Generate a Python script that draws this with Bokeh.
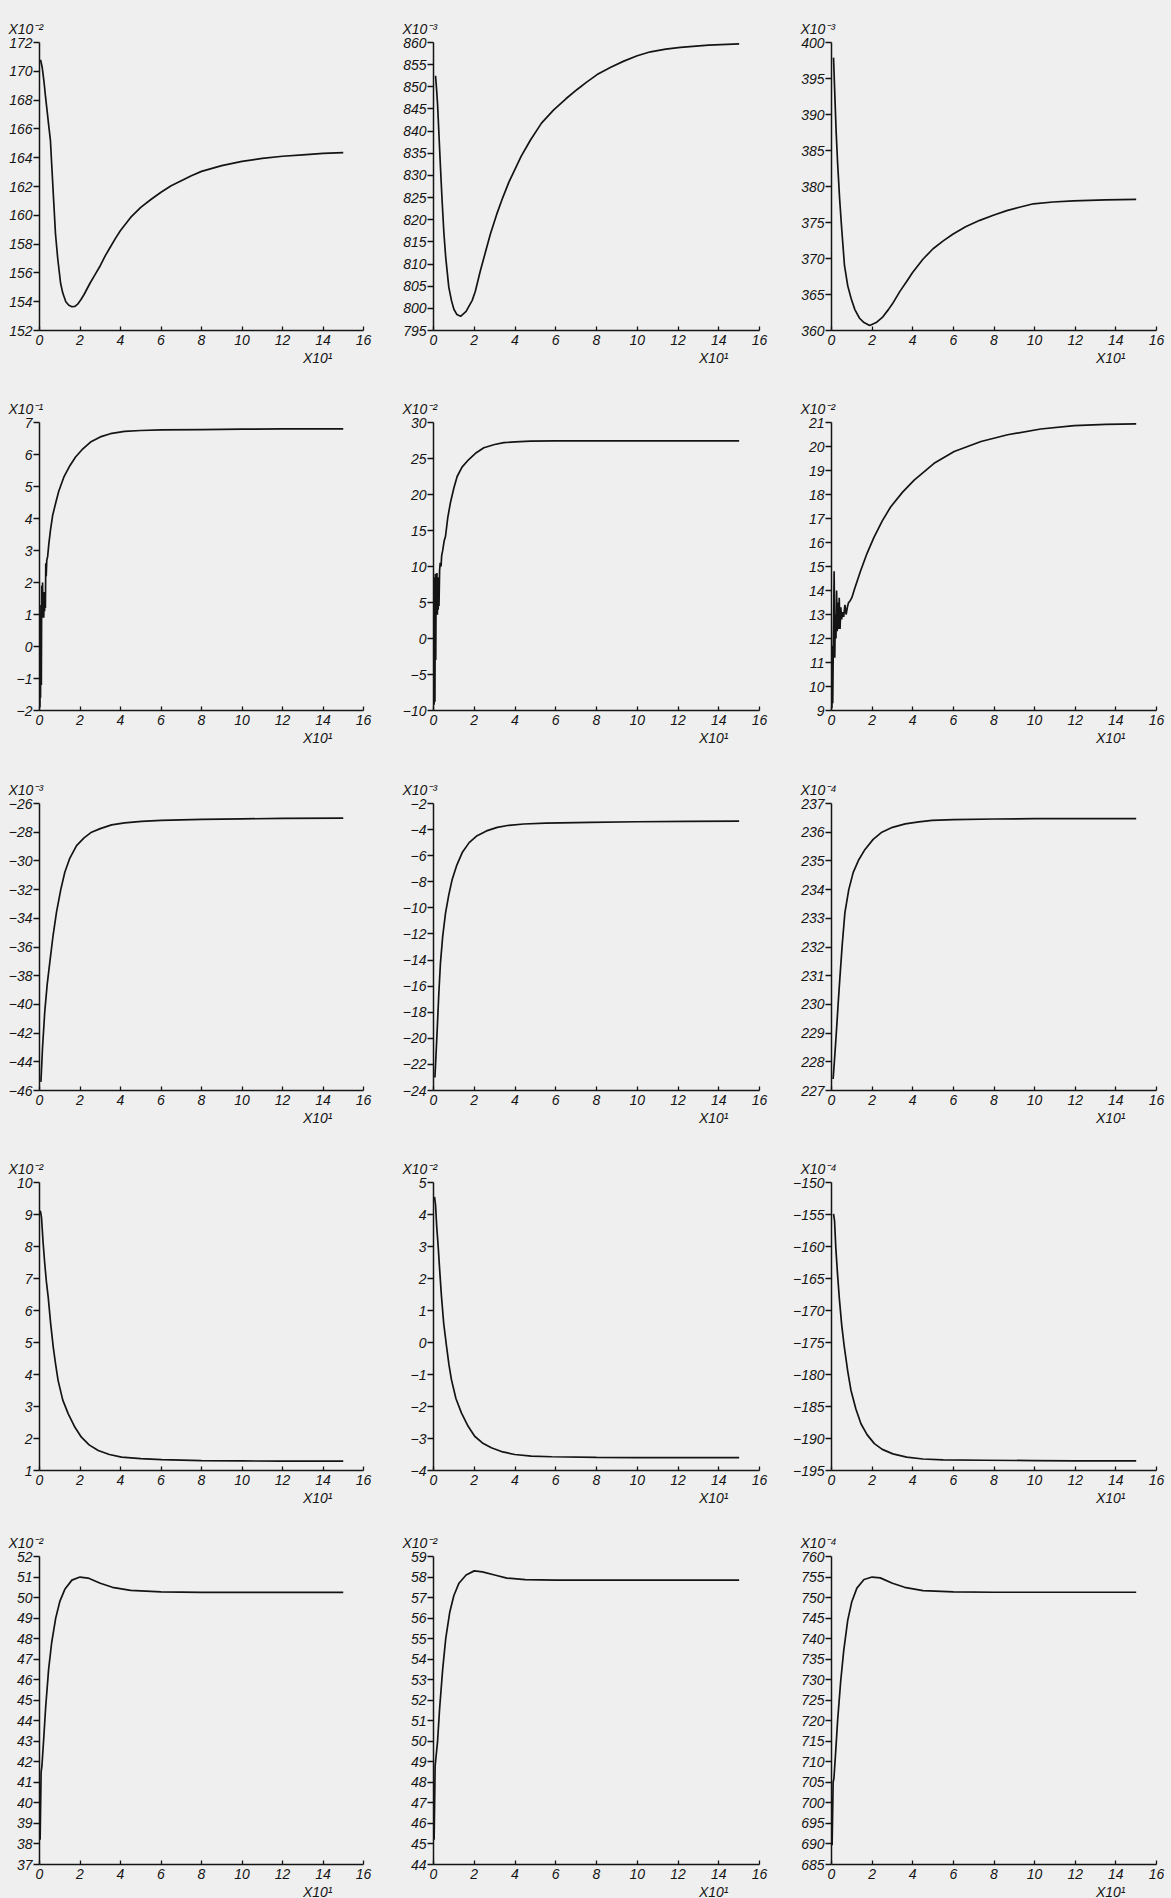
from bokeh.plotting import figure
from bokeh.layouts import column, row
from bokeh.models import FixedTicker, Range1d, Title
from bokeh.embed import file_html
from bokeh.resources import INLINE

# ---------------------------------------------------------------------------
# Shared time axis (units of 10^1)
# ---------------------------------------------------------------------------
x_ticks = [0, 2, 4, 6, 8, 10, 12, 14, 16]
x_scale_text = "X10¹"

# ---------------------------------------------------------------------------
# Row 1
# ---------------------------------------------------------------------------
t_r1c1 = [0.05, 0.13, 0.22, 0.3, 0.38, 0.45, 0.54, 0.6, 0.7, 0.79, 0.9, 1.04,
          1.15, 1.3, 1.45, 1.6, 1.75, 1.9, 2.05, 2.2, 2.5, 2.75, 3.0, 3.25, 3.5,
          3.75, 4.0, 4.5, 5.0, 5.5, 6.0, 6.5, 7.0, 7.5, 8.0, 9.0, 10.0, 11.0,
          12.0, 13.0, 14.0, 15.0]
v_r1c1 = [170.8, 170.3, 169.3, 168.2, 167.2, 166.3, 165.2, 163.6, 161.0, 158.7,
          157.0, 155.3, 154.6, 154.0, 153.75, 153.65, 153.68, 153.85, 154.15,
          154.5, 155.3, 155.9, 156.5, 157.2, 157.8, 158.4, 158.95, 159.85,
          160.55, 161.1, 161.6, 162.05, 162.4, 162.75, 163.05, 163.45, 163.75,
          163.95, 164.1, 164.2, 164.3, 164.35]
yt_r1c1 = [152, 154, 156, 158, 160, 162, 164, 166, 168, 170, 172]

t_r1c2 = [0.1, 0.15, 0.2, 0.27, 0.34, 0.42, 0.51, 0.6, 0.75, 0.88, 1.0, 1.15,
          1.33, 1.6, 1.9, 2.05, 2.3, 2.55, 2.8, 3.1, 3.4, 3.7, 3.98, 4.3, 4.76,
          5.3, 5.9, 6.5, 7.05, 7.5, 8.03, 8.7, 9.34, 10.0, 10.65, 11.4, 12.12,
          13.5, 15.0]
v_r1c2 = [852.5, 849.5, 846.0, 839.0, 832.0, 824.5, 817.0, 811.5, 804.8, 801.8,
          799.8, 798.6, 798.2, 799.3, 801.8, 803.8, 808.5, 812.7, 816.9, 821.2,
          825.0, 828.5, 831.2, 834.3, 838.0, 841.8, 844.8, 847.3, 849.4, 851.0,
          852.75, 854.4, 855.8, 857.0, 857.9, 858.5, 858.9, 859.4, 859.7]
yt_r1c2 = [795, 800, 805, 810, 815, 820, 825, 830, 835, 840, 845, 850, 855, 860]

t_r1c3 = [0.1, 0.16, 0.23, 0.3, 0.4, 0.5, 0.64, 0.8, 0.97, 1.15, 1.38, 1.6, 1.88,
          2.2, 2.53, 2.8, 3.0, 3.36, 3.7, 4.0, 4.5, 5.0, 5.5, 5.99, 6.6, 7.3,
          8.0, 8.63, 9.3, 9.94, 10.9, 11.9, 13.5, 15.0]
v_r1c3 = [397.9, 393.0, 387.5, 383.3, 378.3, 374.2, 369.0, 366.2, 364.4, 362.9,
          361.7, 361.1, 360.7, 361.1, 361.9, 362.9, 363.7, 365.4, 366.8, 368.1,
          369.9, 371.35, 372.45, 373.4, 374.4, 375.3, 376.05, 376.65, 377.15,
          377.6, 377.85, 378.0, 378.15, 378.2]
yt_r1c3 = [360, 365, 370, 375, 380, 385, 390, 395, 400]

# ---------------------------------------------------------------------------
# Row 2
# ---------------------------------------------------------------------------
t_r2c1 = [0.0, 0.02, 0.04, 0.05, 0.07, 0.09, 0.11, 0.13, 0.15, 0.17, 0.19, 0.21,
          0.23, 0.25, 0.27, 0.29, 0.31, 0.33, 0.36, 0.40, 0.46, 0.54, 0.65, 0.79,
          0.95, 1.2, 1.5, 1.78, 2.1, 2.52, 3.0, 3.5, 4.2, 5.0, 6.0, 8.0, 10.0,
          12.0, 15.0]
v_r2c1 = [-1.5, -1.9, 1.0, -1.6, 1.3, -1.2, 1.9, 0.9, 2.0, 1.0, 1.7, 0.9, 1.6,
          1.1, 1.7, 1.2, 2.6, 2.2, 2.7, 2.8, 3.2, 3.63, 4.1, 4.46, 4.85, 5.29,
          5.65, 5.92, 6.15, 6.39, 6.55, 6.65, 6.72, 6.75, 6.77, 6.78, 6.79, 6.8,
          6.8]
yt_r2c1 = [-2, -1, 0, 1, 2, 3, 4, 5, 6, 7]

t_r2c2 = [0.0, 0.03, 0.05, 0.07, 0.09, 0.11, 0.13, 0.15, 0.17, 0.19, 0.21, 0.23,
          0.25, 0.27, 0.30, 0.33, 0.37, 0.40, 0.45, 0.52, 0.59, 0.70, 0.83, 1.0,
          1.16, 1.4, 1.73, 2.1, 2.47, 3.0, 3.45, 4.0, 4.76, 6.0, 8.0, 10.0, 12.0,
          15.0]
v_r2c2 = [-6.0, -9.2, 8.5, -8.8, 9.0, -3.0, 8.0, 3.5, 9.1, 3.3, 8.5, 4.0, 7.5,
          4.5, 9.5, 10.5, 10.0, 11.5, 12.2, 13.5, 14.2, 16.8, 18.85, 20.9, 22.5,
          23.8, 24.86, 25.8, 26.5, 26.95, 27.2, 27.3, 27.4, 27.45, 27.45, 27.45,
          27.45, 27.45]
yt_r2c2 = [-10, -5, 0, 5, 10, 15, 20, 25, 30]

t_r2c3 = [0.0, 0.02, 0.04, 0.06, 0.08, 0.10, 0.13, 0.16, 0.19, 0.22, 0.25, 0.28,
          0.31, 0.34, 0.38, 0.42, 0.46, 0.50, 0.55, 0.60, 0.66, 0.72, 0.78, 0.84,
          0.9, 1.0, 1.15, 1.43, 1.75, 2.09, 2.5, 2.91, 3.5, 4.07, 5.05, 6.04,
          7.36, 8.67, 10.3, 11.95, 13.5, 15.0]
v_r2c3 = [10.5, 9.1, 11.7, 9.3, 11.0, 12.5, 14.8, 11.2, 13.0, 12.0, 14.0, 12.3,
          13.5, 12.4, 13.7, 12.4, 13.3, 12.8, 13.1, 12.9, 13.4, 13.0, 13.3, 13.5,
          13.55, 13.7, 14.1, 14.81, 15.55, 16.21, 16.9, 17.48, 18.1, 18.6, 19.3,
          19.79, 20.21, 20.49, 20.73, 20.87, 20.92, 20.94]
yt_r2c3 = [9, 10, 11, 12, 13, 14, 15, 16, 17, 18, 19, 20, 21]

# ---------------------------------------------------------------------------
# Row 3
# ---------------------------------------------------------------------------
t_r3c1 = [0.07, 0.15, 0.26, 0.38, 0.51, 0.67, 0.84, 1.05, 1.25, 1.5, 1.83, 2.2,
          2.57, 3.0, 3.56, 4.2, 5.04, 6.0, 8.0, 10.0, 12.0, 15.0]
v_r3c1 = [-45.4, -43.0, -40.5, -38.6, -37.06, -35.2, -33.57, -32.0, -30.79,
          -29.8, -28.93, -28.4, -28.0, -27.75, -27.49, -27.35, -27.25, -27.18,
          -27.11, -27.07, -27.04, -27.02]
yt_r3c1 = [-46, -44, -42, -40, -38, -36, -34, -32, -30, -28, -26]

t_r3c2 = [0.07, 0.18, 0.26, 0.34, 0.45, 0.59, 0.75, 0.92, 1.15, 1.41, 1.75, 2.14,
          2.6, 3.13, 3.7, 4.43, 5.5, 7.7, 10.0, 12.5, 15.0]
v_r3c2 = [-23.0, -19.4, -16.6, -14.25, -12.2, -10.4, -9.0, -7.8, -6.7, -5.76,
          -5.0, -4.47, -4.1, -3.83, -3.67, -3.57, -3.5, -3.44, -3.4, -3.37, -3.35]
yt_r3c2 = [-24, -22, -20, -18, -16, -14, -12, -10, -8, -6, -4, -2]

t_r3c3 = [0.08, 0.17, 0.25, 0.33, 0.41, 0.53, 0.66, 0.85, 1.07, 1.35, 1.65, 2.05,
          2.48, 3.0, 3.63, 4.3, 4.95, 6.0, 8.0, 10.0, 12.0, 15.0]
v_r3c3 = [227.4, 228.3, 229.15, 230.05, 230.9, 232.1, 233.2, 234.0, 234.6,
          235.05, 235.4, 235.75, 236.0, 236.17, 236.29, 236.36, 236.41, 236.44,
          236.46, 236.47, 236.47, 236.47]
yt_r3c3 = [227, 228, 229, 230, 231, 232, 233, 234, 235, 236, 237]

# ---------------------------------------------------------------------------
# Row 4
# ---------------------------------------------------------------------------
t_r4c1 = [0.02, 0.05, 0.1, 0.18, 0.26, 0.34, 0.43, 0.55, 0.68, 0.8, 0.92, 1.15,
          1.42, 1.75, 2.07, 2.45, 2.9, 3.45, 4.05, 5.0, 6.03, 8.0, 10.0, 12.0,
          15.0]
v_r4c1 = [9.1, 9.1, 8.9, 8.1, 7.46, 6.9, 6.42, 5.6, 4.85, 4.3, 3.81, 3.2, 2.77,
          2.35, 2.04, 1.8, 1.625, 1.5, 1.42, 1.37, 1.34, 1.31, 1.3, 1.29, 1.29]
yt_r4c1 = [1, 2, 3, 4, 5, 6, 7, 8, 9, 10]

t_r4c2 = [0.05, 0.1, 0.16, 0.23, 0.31, 0.39, 0.5, 0.64, 0.76, 0.88, 1.1, 1.37,
          1.7, 2.02, 2.4, 2.84, 3.4, 3.99, 4.8, 5.8, 8.0, 10.0, 12.0, 15.0]
v_r4c2 = [4.55, 4.3, 3.6, 3.0, 2.2, 1.45, 0.6, -0.12, -0.7, -1.16, -1.75, -2.2,
          -2.62, -2.93, -3.14, -3.29, -3.42, -3.5, -3.55, -3.57, -3.59, -3.6,
          -3.6, -3.6]
yt_r4c2 = [-4, -3, -2, -1, 0, 1, 2, 3, 4, 5]

t_r4c3 = [0.1, 0.15, 0.21, 0.29, 0.38, 0.5, 0.63, 0.8, 0.96, 1.2, 1.45, 1.75,
          2.11, 2.5, 3.02, 3.7, 4.5, 5.5, 7.47, 10.0, 12.0, 15.0]
v_r4c3 = [-154.9, -156.0, -160.1, -164.0, -167.9, -172.2, -175.7, -179.5,
          -182.5, -185.4, -187.7, -189.4, -190.8, -191.7, -192.4, -192.9, -193.2,
          -193.35, -193.4, -193.45, -193.5, -193.5]
yt_r4c3 = [-195, -190, -185, -180, -175, -170, -165, -160, -155, -150]

# ---------------------------------------------------------------------------
# Row 5
# ---------------------------------------------------------------------------
t_r5 = [0.03, 0.08, 0.12, 0.2, 0.3, 0.45, 0.6, 0.8, 1.0, 1.25, 1.6, 2.0, 2.4,
        3.0, 3.6, 4.5, 6.0, 8.0, 10.0, 12.0, 15.0]
v_r5c1 = [38.2, 41.5, 41.8, 43.0, 44.6, 46.5, 47.8, 49.0, 49.8, 50.4, 50.85,
          51.0, 50.95, 50.7, 50.5, 50.35, 50.28, 50.25, 50.25, 50.25, 50.25]
yt_r5c1 = [37, 38, 39, 40, 41, 42, 43, 44, 45, 46, 47, 48, 49, 50, 51, 52]

v_r5c2 = [45.2, 48.8, 49.2, 50.0, 51.6, 53.5, 55.0, 56.3, 57.1, 57.7, 58.1, 58.3,
          58.25, 58.1, 57.95, 57.87, 57.85, 57.85, 57.85, 57.85, 57.85]
yt_r5c2 = [44, 45, 46, 47, 48, 49, 50, 51, 52, 53, 54, 55, 56, 57, 58, 59]

v_r5c3 = [689.7, 705.0, 706.0, 712.0, 720.0, 729.5, 737.0, 744.5, 749.0, 752.3,
          754.4, 755.0, 754.8, 753.5, 752.5, 751.7, 751.4, 751.3, 751.3, 751.3,
          751.3]
yt_r5c3 = [685, 690, 695, 700, 705, 710, 715, 720, 725, 730, 735, 740, 745, 750,
           755, 760]

# value multipliers printed above each y axis
scale_r1 = ["X10⁻²", "X10⁻³", "X10⁻³"]
scale_r2 = ["X10⁻¹", "X10⁻²", "X10⁻²"]
scale_r3 = ["X10⁻³", "X10⁻³", "X10⁻⁴"]
scale_r4 = ["X10⁻²", "X10⁻²", "X10⁻⁴"]
scale_r5 = ["X10⁻²", "X10⁻²", "X10⁻⁴"]

grid_rows = [
    [(t_r1c1, v_r1c1, yt_r1c1), (t_r1c2, v_r1c2, yt_r1c2), (t_r1c3, v_r1c3, yt_r1c3)],
    [(t_r2c1, v_r2c1, yt_r2c1), (t_r2c2, v_r2c2, yt_r2c2), (t_r2c3, v_r2c3, yt_r2c3)],
    [(t_r3c1, v_r3c1, yt_r3c1), (t_r3c2, v_r3c2, yt_r3c2), (t_r3c3, v_r3c3, yt_r3c3)],
    [(t_r4c1, v_r4c1, yt_r4c1), (t_r4c2, v_r4c2, yt_r4c2), (t_r4c3, v_r4c3, yt_r4c3)],
    [(t_r5, v_r5c1, yt_r5c1), (t_r5, v_r5c2, yt_r5c2), (t_r5, v_r5c3, yt_r5c3)],
]
grid_scales = [scale_r1, scale_r2, scale_r3, scale_r4, scale_r5]

# ---------------------------------------------------------------------------
# Page geometry: (left border, frame width, right border) per column and
# (top border, frame height, bottom border) per row
# ---------------------------------------------------------------------------
COL_GEOM = [(39, 324, 27), (43, 326, 21), (51, 325, 15)]
ROW_GEOM = [(42, 288, 45), (47, 288, 45), (48, 287, 45), (47, 288, 45), (41, 308, 34)]

PAPER = "#efefef"
INK = "#141414"
FONT = "Liberation Sans"


def make_panel(xs, ys, yticks, scale_text, col_geom, row_geom):
    left, fw, right = col_geom
    top, fh, bottom = row_geom
    ymin, ymax = min(yticks), max(yticks)
    p = figure(
        frame_width=fw, frame_height=fh,
        min_border_left=left, min_border_right=right,
        min_border_top=top, min_border_bottom=bottom,
        x_range=Range1d(0, 16), y_range=Range1d(ymin, ymax),
        output_backend="svg", toolbar_location=None,
    )
    p.background_fill_color = PAPER
    p.border_fill_color = PAPER
    p.outline_line_color = None
    p.grid.visible = False

    p.line(xs, ys, line_color=INK, line_width=1.7)

    for ax in (p.xaxis[0], p.yaxis[0]):
        ax.axis_line_color = INK
        ax.axis_line_width = 1.5
        ax.major_tick_line_color = INK
        ax.major_tick_line_width = 1.3
        ax.minor_tick_line_color = None
        ax.major_label_text_font = FONT
        ax.major_label_text_font_style = "italic"
        ax.major_label_text_font_size = "14px"
        ax.major_label_text_color = INK

    p.xaxis.ticker = FixedTicker(ticks=x_ticks)
    p.xaxis.major_tick_in = 4
    p.xaxis.major_tick_out = 0
    p.xaxis.major_label_standoff = 4

    # value labels sit on their tick marks, as on a pen-plotter sheet
    p.yaxis.ticker = FixedTicker(ticks=yticks)
    p.yaxis.major_tick_in = 0
    p.yaxis.major_tick_out = 6
    p.yaxis.major_label_standoff = 1
    p.yaxis.major_label_text_baseline = "alphabetic"

    # multiplier of the value axis, written just above its top end
    p.title.text = scale_text
    p.title.align = "left"
    p.title.offset = -31
    p.title.standoff = 12
    p.title.text_font = FONT
    p.title.text_font_style = "italic"
    p.title.text_font_size = "14px"
    p.title.text_color = INK

    # multiplier of the time axis, under the "14" tick
    x_note = Title(
        text=x_scale_text, align="right", offset=31, standoff=0,
        text_font=FONT, text_font_style="italic", text_font_size="14px",
        text_color=INK,
    )
    p.add_layout(x_note, "below")
    return p


rows = []
for r, (panel_row, scales) in enumerate(zip(grid_rows, grid_scales)):
    figs = []
    for c, ((xs, ys, yt), sc) in enumerate(zip(panel_row, scales)):
        figs.append(make_panel(xs, ys, yt, sc, COL_GEOM[c], ROW_GEOM[r]))
    rows.append(row(*figs, spacing=0))

page = column(*rows, spacing=0)
page.styles = {"background-color": PAPER}

open("out.html", "w").write(file_html(page, INLINE))
